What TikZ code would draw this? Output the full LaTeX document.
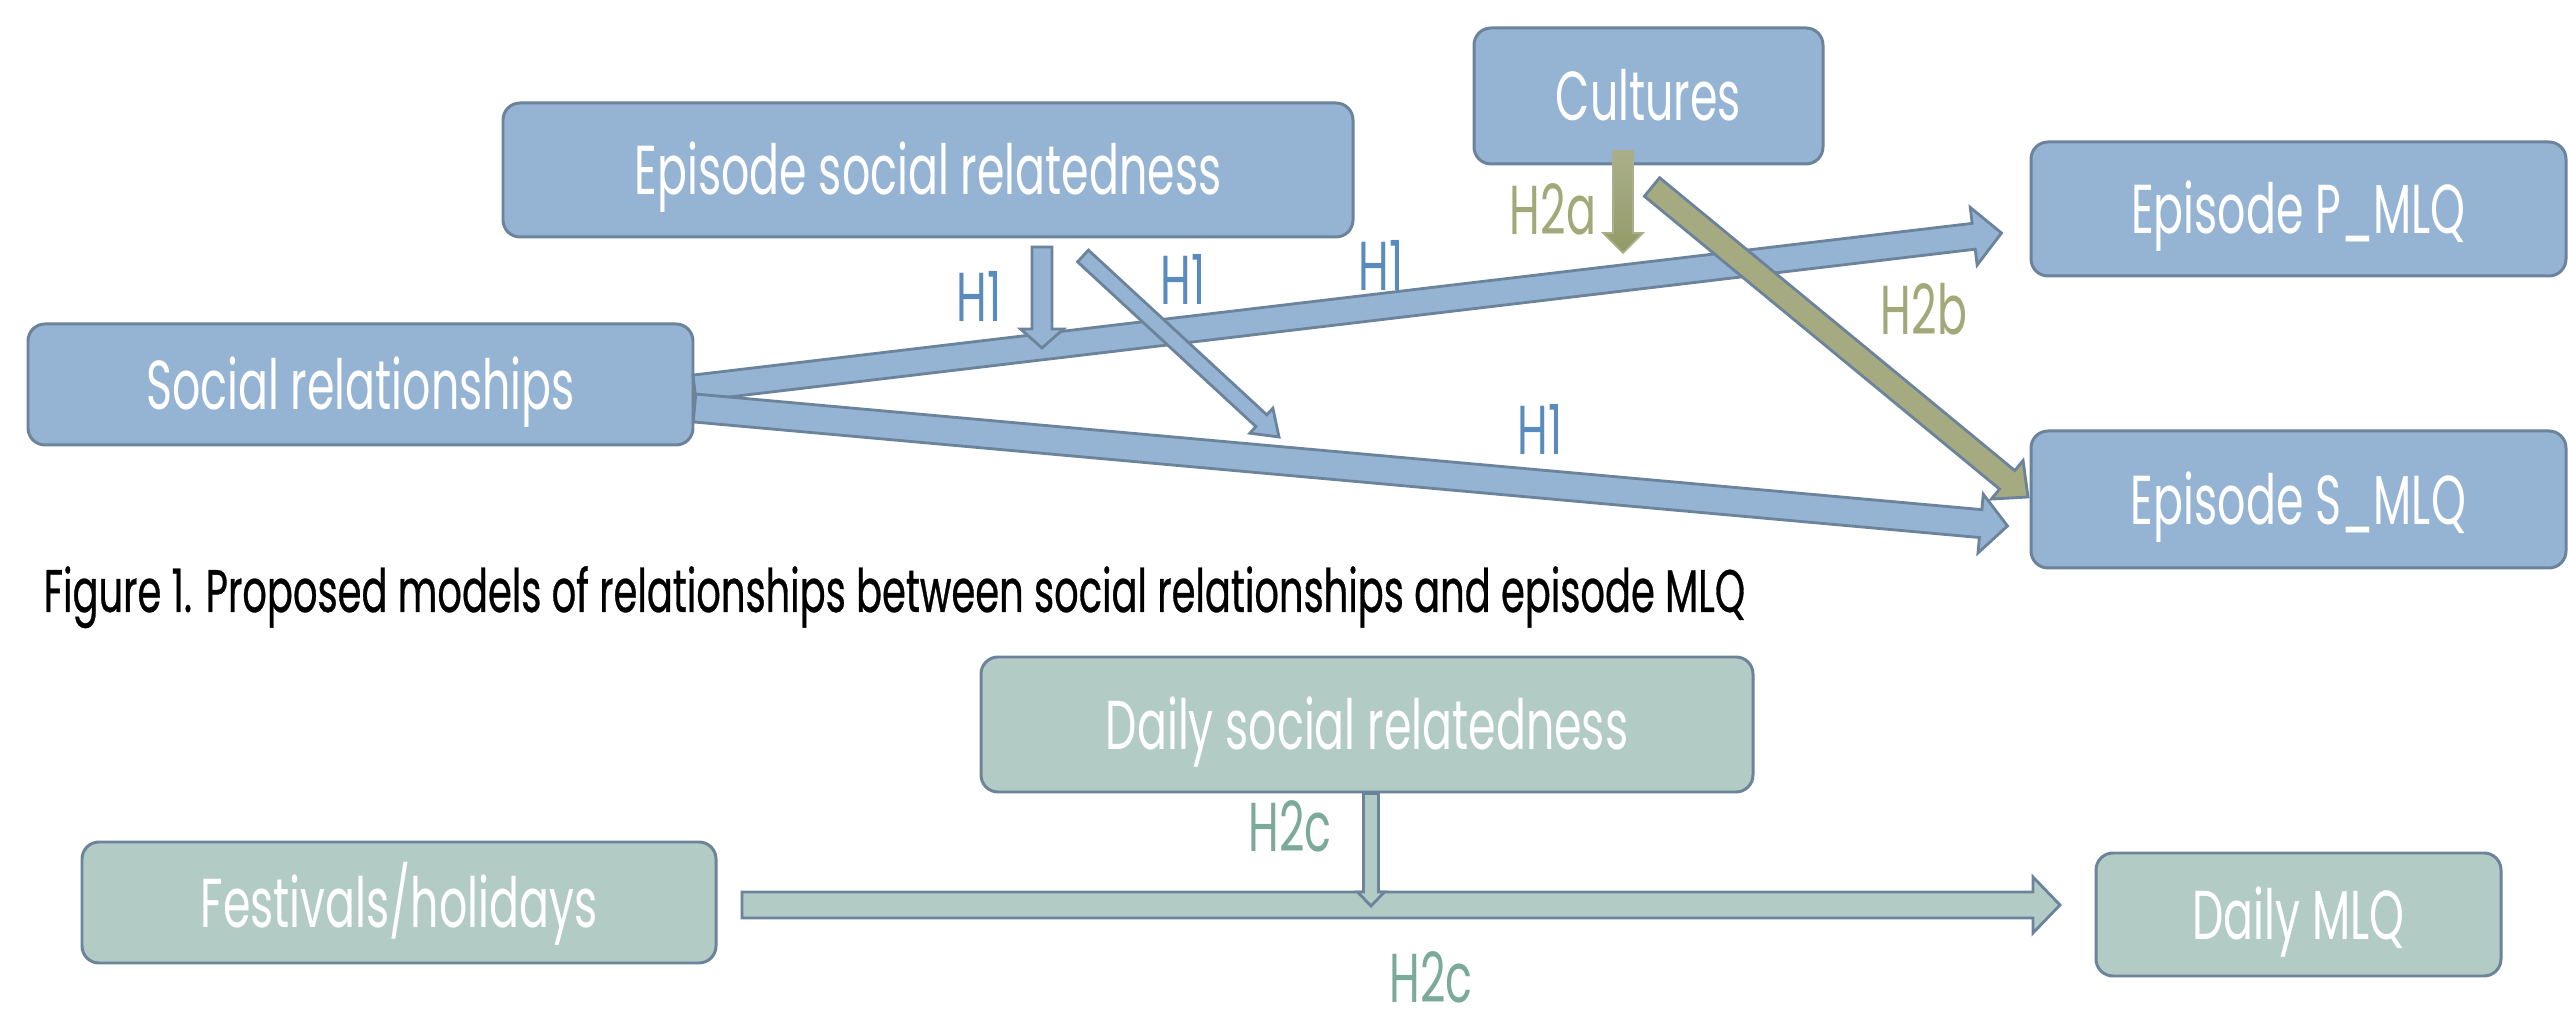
\documentclass[tikz,border=0pt]{standalone}
\usepackage{fontspec}
\setmainfont{Poppins}[FakeStretch=0.64]
\usepackage{tikz}
\usetikzlibrary{calc, positioning}

\definecolor{boxblue}{HTML}{95B3D3}
\definecolor{boxgreen}{HTML}{B2CBC4}
\definecolor{edge}{HTML}{6B839B}
\definecolor{olive}{HTML}{A5AA80}
\definecolor{olivetop}{HTML}{AAAF89}
\definecolor{olivebot}{HTML}{939A68}
\definecolor{hblue}{HTML}{5A8BBE}
\definecolor{holive}{HTML}{A3A878}
\definecolor{hgreen}{HTML}{7BA99A}

\newcommand{\boxfont}{\fontsize{19.7}{23}\selectfont}
\newcommand{\capfont}{\fontsize{17.1}{20}\selectfont\addfontfeatures{FakeBold=0.5}}

% block arrow: style, base, tip, half shaft, half head, head length
\newcommand{\blockarrow}[6]{%
  \coordinate (ba) at ($(#3)!#6!(#2)$);
  \draw[#1] ($(#2)!#4!90:(#3)$) -- ($(ba)!#4!90:(#3)$) -- ($(ba)!#5!90:(#3)$) -- (#3)
    -- ($(ba)!#5!-90:(#3)$) -- ($(ba)!#4!-90:(#3)$) -- ($(#2)!#4!-90:(#3)$) -- cycle;
}

\tikzset{
  var/.style={draw=edge, line width=0.85pt, rounded corners=0.17cm, inner sep=0pt,
    text=white, font=\boxfont, text height=0.62cm, text depth=0.12cm},
  bluevar/.style={var, fill=boxblue},
  greenvar/.style={var, fill=boxgreen},
  hyp/.style={font=\boxfont, inner sep=0pt},
}

\begin{document}
\begin{tikzpicture}
  \useasboundingbox (0,0) rectangle (25.68,-10.11);

  % episode model
  \node[bluevar, minimum width=8.50cm, minimum height=1.34cm] (esr) at (9.28,-1.70) {Episode social relatedness};
  \node[bluevar, minimum width=6.65cm, minimum height=1.21cm] (socrel) at (3.605,-3.845) {Social relationships};
  \node[bluevar, minimum width=3.49cm, minimum height=1.36cm] (cult) at (16.485,-0.96) {Cultures};
  \node[bluevar, minimum width=5.35cm, minimum height=1.34cm] (pmlq) at (22.985,-2.09) {Episode P\_MLQ};
  \node[bluevar, minimum width=5.35cm, minimum height=1.37cm] (smlq) at (22.985,-4.995) {Episode S\_MLQ};

  % caption
  \node[anchor=base west, inner sep=0pt, font=\capfont] (cap) at (0.43,-6.12)
    {Figure 1. Proposed models of relationships between social relationships and episode MLQ};

  % daily model
  \node[greenvar, minimum width=7.72cm, minimum height=1.35cm] (dsr) at (13.67,-7.245) {Daily social relatedness};
  \node[greenvar, minimum width=6.34cm, minimum height=1.21cm] (fest) at (3.99,-9.025) {Festivals/holidays};
  \node[greenvar, minimum width=4.05cm, minimum height=1.23cm] (dmlq) at (22.985,-9.145) {Daily MLQ};

  % arrow ends
  \coordinate (s1) at ($(socrel.east)+(0,-0.035)$);
  \coordinate (t1) at ($(pmlq.west)+(-0.28,-0.24)$);
  \coordinate (s2) at ($(socrel.east)+(0,-0.235)$);
  \coordinate (t2) at ($(smlq.west)+(-0.22,-0.265)$);
  \coordinate (s3) at (10.42,-2.47);
  \coordinate (t3) at (10.42,-3.48);
  \coordinate (s4) at (10.83,-2.56);
  \coordinate (t4) at (12.79,-4.37);
  \coordinate (s5) at (16.23,-1.51);
  \coordinate (t5) at (16.23,-2.53);
  \coordinate (s6) at (16.52,-1.87);
  \coordinate (t6) at (20.28,-4.97);
  \coordinate (s7) at (7.42,-9.05);
  \coordinate (t7) at (20.60,-9.05);
  \coordinate (s8) at ($(dsr.south)+(0.04,0)$);
  \coordinate (t8) at (13.71,-9.06);

  % H1 paths
  \blockarrow{draw=edge, line width=0.8pt, fill=boxblue}{s1}{t1}{0.13cm}{0.29cm}{0.28cm}
  \blockarrow{draw=edge, line width=0.8pt, fill=boxblue}{s2}{t2}{0.14cm}{0.295cm}{0.27cm}
  \blockarrow{draw=edge, line width=0.8pt, fill=boxblue}{s3}{t3}{0.10cm}{0.215cm}{0.19cm}
  \blockarrow{draw=edge, line width=0.8pt, fill=boxblue}{s4}{t4}{0.08cm}{0.17cm}{0.24cm}

  % H2 paths
  \blockarrow{draw=olivetop, line width=0.5pt, top color=olivetop, bottom color=olivebot}{s5}{t5}{0.10cm}{0.20cm}{0.20cm}
  \blockarrow{draw=edge, line width=0.8pt, fill=olive}{s6}{t6}{0.12cm}{0.25cm}{0.27cm}
  \blockarrow{draw=edge, line width=0.8pt, fill=boxgreen}{s7}{t7}{0.13cm}{0.28cm}{0.27cm}
  \blockarrow{draw=edge, line width=0.8pt, fill=boxgreen}{s8}{t8}{0.075cm}{0.135cm}{0.14cm}

  % labels
  \node[hyp, text=hblue] (l1) at (9.79,-2.96) {H1};
  \node[hyp, text=hblue] (l2) at (11.83,-2.79) {H1};
  \node[hyp, text=hblue] (l3) at (13.81,-2.65) {H1};
  \node[hyp, text=hblue] (l4) at (15.40,-4.29) {H1};
  \node[hyp, text=holive] (l5) at (15.53,-2.09) {H2a};
  \node[hyp, text=holive] (l6) at (19.24,-3.09) {H2b};
  \node[hyp, text=hgreen] (l7) at (12.90,-8.26) {H2c};
  \node[hyp, text=hgreen] (l8) at (14.31,-9.77) {H2c};
\end{tikzpicture}
\end{document}
